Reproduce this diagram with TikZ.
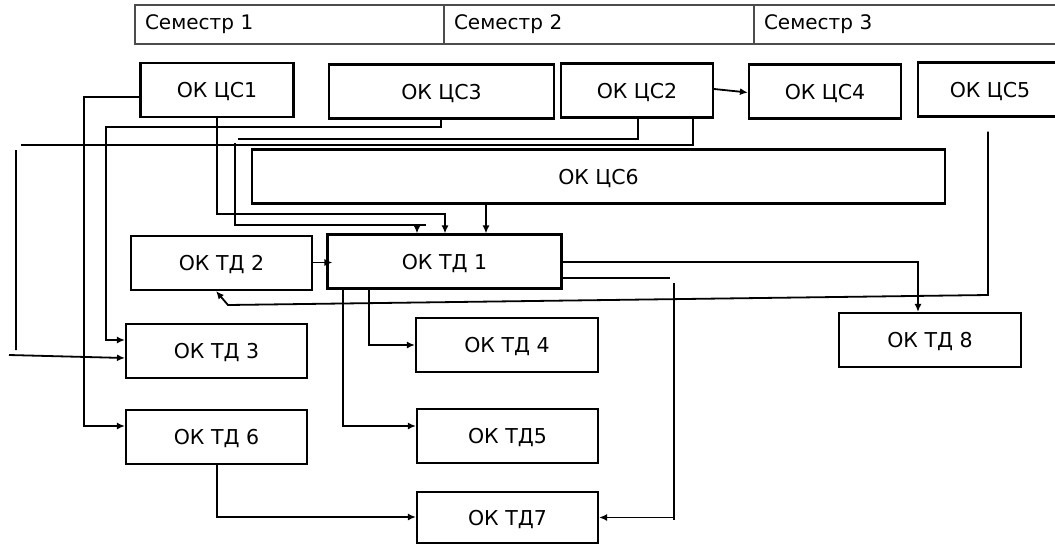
\documentclass[tikz,border=0pt]{standalone}
\usepackage{fontspec}
\setmainfont{DejaVu Sans}
\usetikzlibrary{arrows.meta,calc}
\begin{document}
\begin{tikzpicture}[x=1pt,y=-1pt,
        box/.style={draw,line width=2.1pt,minimum height=54pt,inner sep=0pt,text depth=0pt,font=\fontsize{20.5}{24}\selectfont},
        sem/.style={draw=black!70,line width=1.2pt,minimum height=39pt,inner xsep=10pt,inner ysep=0pt,align=left,font=\fontsize{20}{24}\selectfont},
        conn/.style={line width=1.8pt},
        arr/.style={conn,-{Latex[length=8pt,width=7pt]}}]
    \useasboundingbox (0,0) rectangle (1055,544);
    \node[sem,text width=289pt] (sem1) at (289.5,24.5) {Семестр 1};
    \node[sem,text width=290pt] (sem2) at (599,24.5) {Семестр 2};
    \node[sem,text width=288pt] (sem3) at (908,24.5) {Семестр 3};
    \node[box,minimum width=153pt] (cs1) at (217,90) {ОК ЦС1};
    \node[box,minimum width=225pt] (cs3) at (441.5,91.5) {ОК ЦС3};
    \node[box,minimum width=152pt] (cs2) at (637,90.5) {ОК ЦС2};
    \node[box,minimum width=152pt] (cs4) at (825,91.5) {ОК ЦС4};
    \node[box,minimum width=144pt] (cs5) at (990,89.5) {ОК ЦС5};
    \node[box,minimum width=693pt] (cs6) at (598.5,176.5) {ОК ЦС6};
    \node[box,minimum width=234pt] (td1) at (444.5,261.5) {ОК ТД 1};
    \node[box,minimum width=181pt] (td2) at (221.5,263) {ОК ТД 2};
    \node[box,minimum width=181pt] (td3) at (216.5,351) {ОК ТД 3};
    \node[box,minimum width=182pt] (td4) at (507,345) {ОК ТД 4};
    \node[box,minimum width=181pt] (td5) at (507.5,436) {ОК ТД5};
    \node[box,minimum width=181pt] (td6) at (216.5,437) {ОК ТД 6};
    \node[box,minimum width=181pt,minimum height=51pt] (td7) at (507.5,517.5) {ОК ТД7};
    \node[box,minimum width=182pt] (td8) at (930,340) {ОК ТД 8};
    \draw[arr] (cs1.west |- 0,97) -| (84,426) -- (td6.west |- 0,426);
    \draw[arr] (cs3.south -| 441,0) -- (441,127) -| (106,340) -- (td3.west |- 0,340);
    \draw[arr] (cs2.south -| 693,0) |- (21,145) (16,150) -- (16,350) (9,355) -- (td3.west |- 0,358);
    \draw[arr] (cs2.south -| 638,0) |- (238,139) (235,143) |- (426,225) (417,225) -- (td1.north -| 417,0);
    \draw[arr] (cs1.south -| 217,0) |- (445,214) -- (td1.north -| 445,0);
    \draw[arr] (cs6.south -| 486,0) -- (td1.north -| 486,0);
    \draw[arr] (cs2.east |- 0,89) -- (cs4.west |- 0,92.5);
    \draw[arr] (td2.east |- 0,262.5) -- ([xshift=6pt]td1.west |- 0,262.5);
    \draw[arr] (td1.east |- 0,262) -| (td8.north -| 918,0);
    \draw[arr] (td1.east |- 0,278) -- (670,278) (674,283) -- (674,520) (674,517.5) -- (td7.east |- 0,517.5);
    \draw[arr] ($(cs5.south)+(-2,14)$) -- (988,295) -- (228,305) -- (td2.south -| 216,0);
    \draw[arr] (td1.south -| 369,0) |- (td4.west);
    \draw[arr] (td1.south -| 343,0) |- (td5.west |- 0,426);
    \draw[arr] (td6.south -| 217,0) |- (td7.west |- 0,517);
\end{tikzpicture}
\end{document}
